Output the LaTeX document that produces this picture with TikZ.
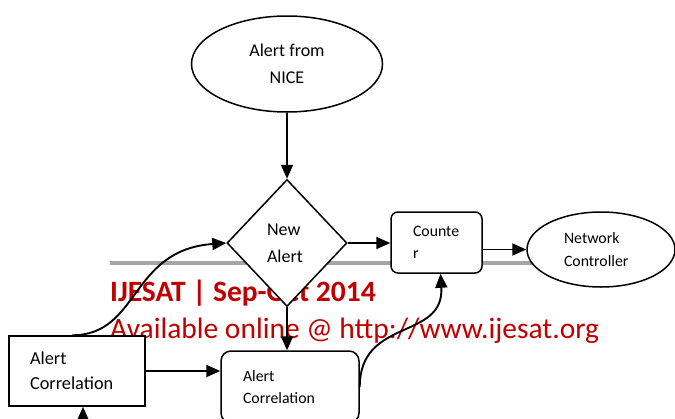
\documentclass[tikz,border=0pt]{standalone}
\usepackage{fontspec}
\setmainfont{Carlito}
\usetikzlibrary{shapes.geometric,arrows.meta}
\usetikzlibrary{positioning}
\definecolor{ijred}{RGB}{192,0,0}
\definecolor{rulegray}{RGB}{165,165,165}

\begin{document}
\begin{tikzpicture}[x=1pt,y=-1pt,
  box/.style={draw,line width=1.5pt,fill=white,inner sep=0pt},
  conn/.style={-{Triangle[length=14pt,width=12pt]},line width=1.9pt},
  big/.style={font=\fontsize{18}{27}\selectfont,align=left},
  small/.style={font=\fontsize{15.8}{22.5}\selectfont,align=left}]
\useasboundingbox (0,0) rectangle (675,418);

% journal banner behind the chart
\draw[rulegray,line width=3.3pt] (110,263) -- (560,263);
\node[anchor=base west,inner sep=0pt,text=ijred,font=\fontsize{29.5}{32}\selectfont\bfseries] (head) at (110,301) {IJESAT | Sep-Oct 2014};
\node[anchor=base west,inner sep=0pt,text=ijred,font=\fontsize{29.5}{32}\selectfont] (site) at (110,338) {Available online @ http://www.ijesat.org};

% the blocks
\node[box,ellipse,minimum width=191pt,minimum height=96pt,big,align=center] (nice) at (287,64) {Alert from\\NICE};
\node[box,diamond,minimum width=120pt,minimum height=127pt,big,text width=40pt] (alert) at (287,243) {New\\Alert};
\node[box,rounded corners=7pt,minimum width=91pt,minimum height=61pt,small,text width=47pt] (counter) at (436.5,242.5) {Counte\\r};
\node[box,ellipse,minimum width=148pt,minimum height=75pt,small,text width=74pt] (network) at (601,249.5) {Network\\Controller};
\node[box,minimum width=136pt,minimum height=70pt,font=\fontsize{18.3}{25}\selectfont,align=left,text width=94pt] (corrleft) at (77,371) {Alert\\Correlation};
\node[box,rounded corners=10pt,minimum width=138pt,minimum height=72pt,small,text width=94pt] (corrright) at (290,387) {Alert\\Correlation};
\coordinate (feed) at (83,430);

% connectors
\draw[conn] (nice) -- (alert);
\draw[conn] (alert.east) -- (alert.east -| counter.west);
\draw[conn] (counter.east |- network.west) -- (network.west);
\draw[conn] (alert.south) -- (alert.south |- corrright.north);
\draw[conn] (corrleft.east) -- (corrleft.east -| corrright.west);
\draw[conn] ([xshift=-5pt]corrleft.north) .. controls +(68,0) and +(-97,7) .. (alert.west);
\draw[conn] (corrright.east) .. controls +(0,-70) and +(4,67) .. ([xshift=4pt]counter.south);
\draw[conn] (feed) -- (feed |- corrleft.south);
\end{tikzpicture}
\end{document}
